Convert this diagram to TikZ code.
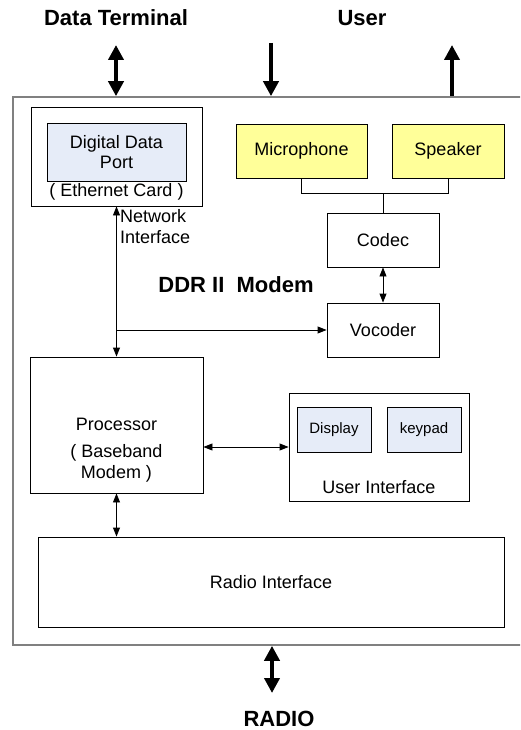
\documentclass[tikz,border=0pt]{standalone}
\usepackage{fontspec}
\setmainfont{Liberation Sans}
\usetikzlibrary{arrows.meta,calc}
\definecolor{lblue}{HTML}{E6ECF8}
\definecolor{lyel}{HTML}{FFFF99}
\definecolor{outgray}{HTML}{808080}
\tikzset{
  box/.style={draw=black, line width=0.9pt, inner sep=0pt, align=center, font=\fontsize{18}{20.5}\selectfont},
  bluebox/.style={box, fill=lblue},
  yelbox/.style={box, fill=lyel},
  outerbox/.style={draw=outgray, line width=1.6pt, inner sep=0pt},
  lbl/.style={font=\fontsize{18}{21}\selectfont, inner sep=0pt, align=center},
  blbl/.style={font=\bfseries\fontsize{22}{24}\selectfont, inner sep=0pt},
  thin/.style={line width=0.9pt, -{Triangle[length=9pt,width=7pt]}},
  thinboth/.style={line width=0.9pt, {Triangle[length=9pt,width=7pt]}-{Triangle[length=9pt,width=7pt]}},
  thick/.style={line width=4pt, -{Triangle[length=15pt,width=15pt]}},
  thickboth/.style={line width=4pt, {Triangle[length=15pt,width=15pt]}-{Triangle[length=15pt,width=15pt]}},
  plain/.style={line width=0.9pt}
}
\begin{document}
\begin{tikzpicture}[x=1pt,y=-1pt]
\useasboundingbox (0,0) rectangle (520,730);
\clip (0,0) rectangle (520,730);
\fill[white] (0,0) rectangle (520,730);
% outer modem box (right edge lies outside the picture)
\node[outerbox, minimum width=527pt, minimum height=548pt] (modem) at (276.5,371) {};
% labels
\node[blbl] (dtl) at (116,18) {Data Terminal};
\node[blbl] (usl) at (362,18) {User};
\node[blbl] (radl) at (279,719) {RADIO};
\node[blbl] (ddr) at (236,285) {DDR II\ \ Modem};
% ethernet
\node[box, minimum width=171pt, minimum height=99pt] (eth) at (116.5,156.5) {};
\node[bluebox, minimum width=139pt, minimum height=58pt] (ddp) at (116.5,152) {Digital Data\\Port};
\node[lbl] (ethl) at (116.5,192) {( Ethernet Card )};
\node[lbl, align=left, anchor=west] (netl) at (120,227) {Network\\Interface};
% audio
\node[yelbox, minimum width=131pt, minimum height=54pt] (mic) at (301.5,151) {Microphone};
\node[yelbox, minimum width=112pt, minimum height=54pt] (spk) at (448,151) {Speaker};
\node[box, minimum width=112pt, minimum height=54pt] (codec) at (383,240) {Codec};
\node[box, minimum width=112pt, minimum height=54pt] (voc) at (383,330) {Vocoder};
% processor
\node[box, minimum width=173pt, minimum height=136pt] (proc) at (116.5,425) {};
\node[lbl] (procl) at (116.5,424) {Processor};
\node[lbl] (procl2) at (116.5,463) {( Baseband\\Modem )};
% user interface
\node[box, minimum width=180pt, minimum height=108pt] (ui) at (379,447) {};
\node[bluebox, minimum width=74pt, minimum height=45pt, font=\fontsize{15}{17}\selectfont] (disp) at (334,429.5) {Display};
\node[bluebox, minimum width=74pt, minimum height=45pt, font=\fontsize{15}{17}\selectfont] (kp) at (424,429.5) {keypad};
\node[lbl] (uil) at (379,487) {User Interface};
% radio
\node[box, minimum width=466pt, minimum height=90pt] (radio) at (271,582) {Radio Interface};
% connectors
\coordinate (j) at ($(codec.north)+(0,-19)$);
\draw[plain] (mic.south) |- (j) -| (spk.south);
\draw[plain] (codec.north) -- (j);
\draw[thinboth] (codec.south) -- (voc.north);
\draw[thinboth] (eth.south) -- (proc.north);
\draw[thin] (eth.south |- voc.west) -- (voc.west);
\draw[thinboth] (proc.east |- ui.west) -- (ui.west);
\draw[thinboth] (proc.south) -- (proc.south |- radio.north);
% external arrows
\coordinate (dtt) at (116,45);
\coordinate (uin) at (271,43);
\coordinate (uout) at (452,45);
\coordinate (radb) at (272,693);
\draw[thickboth] (dtt) -- (dtt |- modem.north);
\draw[thick] (uin) -- (uin |- modem.north);
\draw[thick] (uout |- modem.north) -- (uout);
\draw[thickboth] (radb |- modem.south) -- (radb);
\end{tikzpicture}
\end{document}
